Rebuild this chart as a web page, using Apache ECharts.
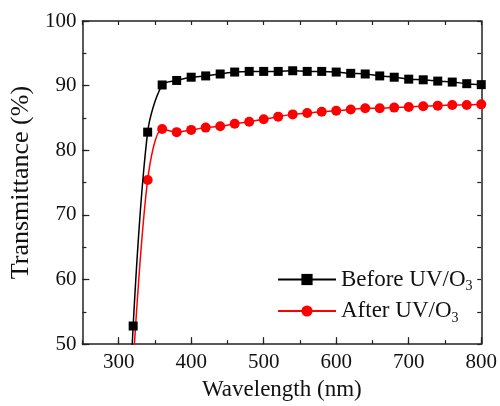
<!DOCTYPE html>
<html>
<head>
<meta charset="utf-8">
<script src="https://cdn.jsdelivr.net/npm/echarts@6/dist/echarts.min.js"></script>
<style>html,body{margin:0;padding:0;background:#fff}#c{width:500px;height:406px}</style>
</head>
<body>
<div id="c"></div>
<script>
var wavelengths = [310, 320, 340, 360, 380, 400, 420, 440, 460, 480, 500, 520, 540, 560, 580, 600, 620, 640, 660, 680, 700, 720, 740, 760, 780, 800];
var beforeUV = [20, 52.8, 82.8, 90.1, 90.8, 91.3, 91.5, 91.8, 92.1, 92.2, 92.2, 92.2, 92.3, 92.2, 92.2, 92.1, 91.9, 91.8, 91.5, 91.3, 91.0, 90.9, 90.7, 90.55, 90.3, 90.15];
var afterUV = [25, 47, 75.4, 83.3, 82.8, 83.15, 83.5, 83.7, 84.1, 84.4, 84.8, 85.2, 85.55, 85.75, 85.95, 86.1, 86.3, 86.5, 86.5, 86.6, 86.7, 86.8, 86.9, 87.0, 87.0, 87.1];
var xTickLabels = [300, 400, 500, 600, 700, 800];
var yTickLabels = [50, 60, 70, 80, 90, 100];
var seriesNames = ['Before UV/O3', 'After UV/O3'];

function pairs(xs, ys) { return xs.map(function (x, i) { return [x, ys[i]]; }); }
var FONT = 'Liberation Serif';
var chart = echarts.init(document.getElementById('c'));
var axLine = { show: true, lineStyle: { color: '#222', width: 1.5 } };
chart.setOption({
  animation: false,
  backgroundColor: '#fff',
  grid: { left: 81, top: 21, right: 18, bottom: 58 },
  legend: {
    orient: 'vertical',
    left: 272,
    top: 263,
    itemWidth: 58,
    itemHeight: 14,
    itemGap: 6,
    data: seriesNames,
    formatter: function (n) { return '{a|' + n.slice(0, -1) + '}{s|' + n.slice(-1) + '}'; },
    textStyle: {
      rich: {
        a: { fontFamily: FONT, fontSize: 23, color: '#111' },
        s: { fontFamily: FONT, fontSize: 14, color: '#111', padding: [14, 0, 0, 0] }
      }
    }
  },
  xAxis: [
    {
      type: 'value', position: 'bottom', min: 250, max: 800, interval: 50,
      axisLine: axLine,
      splitLine: { show: false },
      axisTick: { show: true, inside: true, length: 7, customValues: xTickLabels, lineStyle: { color: '#222', width: 1.2 } },
      axisLabel: { customValues: xTickLabels, fontFamily: FONT, fontSize: 21, color: '#111', margin: 8 },
      name: 'Wavelength (nm)', nameLocation: 'middle', nameGap: 32,
      nameTextStyle: { fontFamily: FONT, fontSize: 23, color: '#111' }
    },
    {
      type: 'value', position: 'bottom', min: 250, max: 800, interval: 50,
      axisLine: { show: false }, splitLine: { show: false }, axisLabel: { show: false },
      axisTick: { show: true, inside: true, length: 4, lineStyle: { color: '#222', width: 1.2 } }
    },
    {
      type: 'value', position: 'top', min: 250, max: 800, interval: 50,
      axisLine: axLine, splitLine: { show: false }, axisLabel: { show: false },
      axisTick: { show: true, inside: true, length: 4, lineStyle: { color: '#222', width: 1.2 } }
    }
  ],
  yAxis: [
    {
      type: 'value', position: 'left', min: 50, max: 100, interval: 5,
      axisLine: axLine, splitLine: { show: false },
      axisTick: { show: true, inside: true, length: 7, customValues: yTickLabels, lineStyle: { color: '#222', width: 1.2 } },
      axisLabel: { customValues: yTickLabels, fontFamily: FONT, fontSize: 21, color: '#111', margin: 6 },
      name: 'Transmittance (%)', nameLocation: 'middle', nameGap: 39,
      nameTextStyle: { fontFamily: FONT, fontSize: 26, color: '#111' }
    },
    {
      type: 'value', position: 'left', min: 50, max: 100, interval: 5,
      axisLine: { show: false }, splitLine: { show: false }, axisLabel: { show: false },
      axisTick: { show: true, inside: true, length: 4, lineStyle: { color: '#222', width: 1.2 } }
    },
    {
      type: 'value', position: 'right', min: 50, max: 100, interval: 5,
      axisLine: axLine, splitLine: { show: false }, axisLabel: { show: false },
      axisTick: { show: true, inside: true, length: 4, lineStyle: { color: '#222', width: 1.2 } }
    }
  ],
  series: [
    {
      name: seriesNames[0], type: 'line', xAxisIndex: 0, yAxisIndex: 0,
      data: pairs(wavelengths, beforeUV), smooth: 0.3, clip: true,
      symbol: 'rect', symbolSize: 9, showAllSymbol: true,
      lineStyle: { color: '#000', width: 1.5 }, itemStyle: { color: '#000' }, z: 3
    },
    {
      name: seriesNames[1], type: 'line', xAxisIndex: 0, yAxisIndex: 0,
      data: pairs(wavelengths, afterUV), smooth: 0.3, clip: true,
      symbol: 'circle', symbolSize: 10, showAllSymbol: true,
      lineStyle: { color: '#ff0000', width: 1.5 }, itemStyle: { color: '#ff0000' }, z: 2
    }
  ]
});
</script>
</body>
</html>
